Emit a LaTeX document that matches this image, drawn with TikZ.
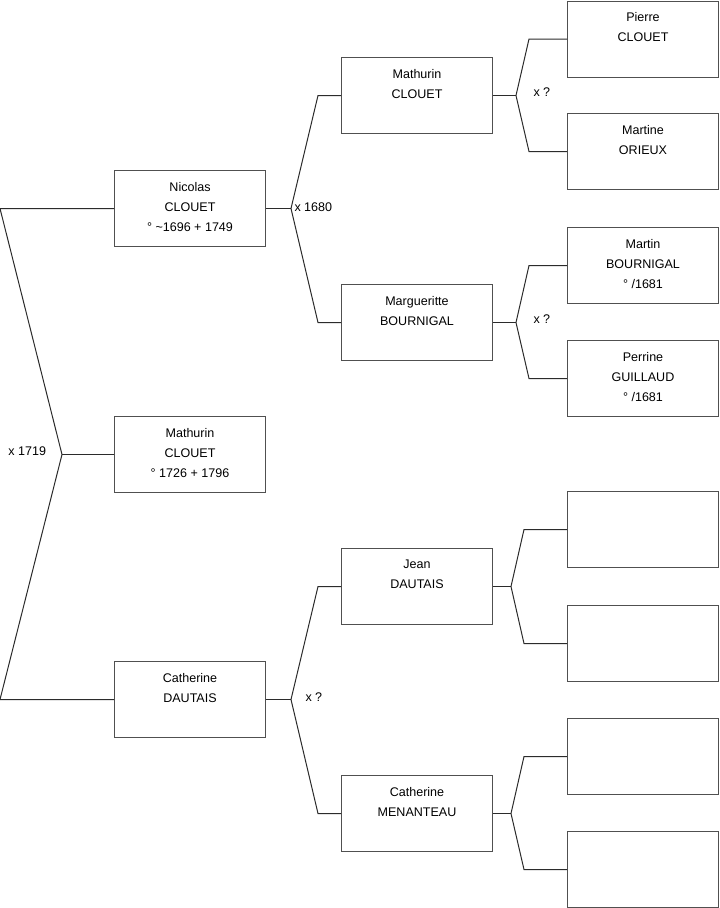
\documentclass[tikz,border=0pt]{standalone}
\usepackage{fontspec}
\setmainfont{Liberation Sans}
\usetikzlibrary{positioning, calc}
\definecolor{cline}{HTML}{2B2B2B}
\definecolor{cbox}{HTML}{505050}
\tikzset{
  every picture/.style={line width=0.75pt},
  pbox/.style={draw=cbox, fill=white, anchor=north west, minimum width=113.25pt, minimum height=57pt, inner sep=0pt},
  ptext/.style={anchor=north, align=center, inner sep=0pt, yshift=-8.8pt, font=\fontsize{9.4pt}{15pt}\selectfont},
  union/.style={anchor=west, inner sep=0pt, font=\fontsize{9.4pt}{15pt}\selectfont},
  link/.style={draw=cline},
}

\begin{document}
\begin{tikzpicture}[x=0.75pt, y=-0.75pt]
  \useasboundingbox (0,0) rectangle (719,908);
  \coordinate (o) at (0,0);

  % generation 1
  \node[pbox] (n1) at (114,170) {};
  \node[ptext] (n1t) at (n1.north) {Nicolas\\CLOUET\\° \textasciitilde1696 + 1749};
  \node[pbox] (r) at (114,416) {};
  \node[ptext] (rt) at (r.north) {Mathurin\\CLOUET\\° 1726 + 1796};
  \node[pbox] (c1) at (114,661) {};
  \node[ptext] (c1t) at (c1.north) {Catherine\\DAUTAIS};

  % generation 2
  \node[pbox] (m1) at (341,57) {};
  \node[ptext] (m1t) at (m1.north) {Mathurin\\CLOUET};
  \node[pbox] (g1) at (341,284) {};
  \node[ptext] (g1t) at (g1.north) {Margueritte\\BOURNIGAL};
  \node[pbox] (j1) at (341,548) {};
  \node[ptext] (j1t) at (j1.north) {Jean\\DAUTAIS};
  \node[pbox] (k1) at (341,775) {};
  \node[ptext] (k1t) at (k1.north) {Catherine\\MENANTEAU};

  % generation 3
  \node[pbox] (p1) at (567,0.5) {};
  \node[ptext] (p1t) at (p1.north) {Pierre\\CLOUET};
  \node[pbox] (p2) at (567,113) {};
  \node[ptext] (p2t) at (p2.north) {Martine\\ORIEUX};
  \node[pbox] (p3) at (567,227) {};
  \node[ptext] (p3t) at (p3.north) {Martin\\BOURNIGAL\\° /1681};
  \node[pbox] (p4) at (567,340) {};
  \node[ptext] (p4t) at (p4.north) {Perrine\\GUILLAUD\\° /1681};
  \node[pbox] (p5) at (567,491) {};
  \node[pbox] (p6) at (567,605) {};
  \node[pbox] (p7) at (567,718) {};
  \node[pbox] (p8) at (567,831) {};

  % forks
  \coordinate (f1) at ($(r.west)+(-52,0)$);
  \draw[link] (n1.west) -- (n1.west -| o) -- (f1) -- (c1.west -| o) -- (c1.west);
  \draw[link] (f1) -- (r.west);
  \node[union] (u1) at (8,451) {x 1719};

  \coordinate (f2) at ($(n1.east)+(25,0)$);
  \draw[link] (n1.east) -- (f2);
  \draw[link] (m1.west) -- ++(-23,0) -- (f2) -- ($(g1.west)+(-23,0)$) -- (g1.west);
  \node[union] (u2) at (294,207) {x 1680};

  \coordinate (f3) at ($(c1.east)+(25,0)$);
  \draw[link] (c1.east) -- (f3);
  \draw[link] (j1.west) -- ++(-23,0) -- (f3) -- ($(k1.west)+(-23,0)$) -- (k1.west);
  \node[union] (u3) at (305,697) {x ?};

  \coordinate (f4) at ($(m1.east)+(23,0)$);
  \draw[link] (m1.east) -- (f4);
  \draw[link] (p1.west) -- ++(-38,0) -- (f4) -- ($(p2.west)+(-38,0)$) -- (p2.west);
  \node[union] (u4) at (533,92) {x ?};

  \coordinate (f5) at ($(g1.east)+(23,0)$);
  \draw[link] (g1.east) -- (f5);
  \draw[link] (p3.west) -- ++(-38,0) -- (f5) -- ($(p4.west)+(-38,0)$) -- (p4.west);
  \node[union] (u5) at (533,319) {x ?};

  \coordinate (f6) at ($(j1.east)+(18,0)$);
  \draw[link] (j1.east) -- (f6);
  \draw[link] (p5.west) -- ++(-43,0) -- (f6) -- ($(p6.west)+(-43,0)$) -- (p6.west);

  \coordinate (f7) at ($(k1.east)+(18,0)$);
  \draw[link] (k1.east) -- (f7);
  \draw[link] (p7.west) -- ++(-43,0) -- (f7) -- ($(p8.west)+(-43,0)$) -- (p8.west);
\end{tikzpicture}
\end{document}
